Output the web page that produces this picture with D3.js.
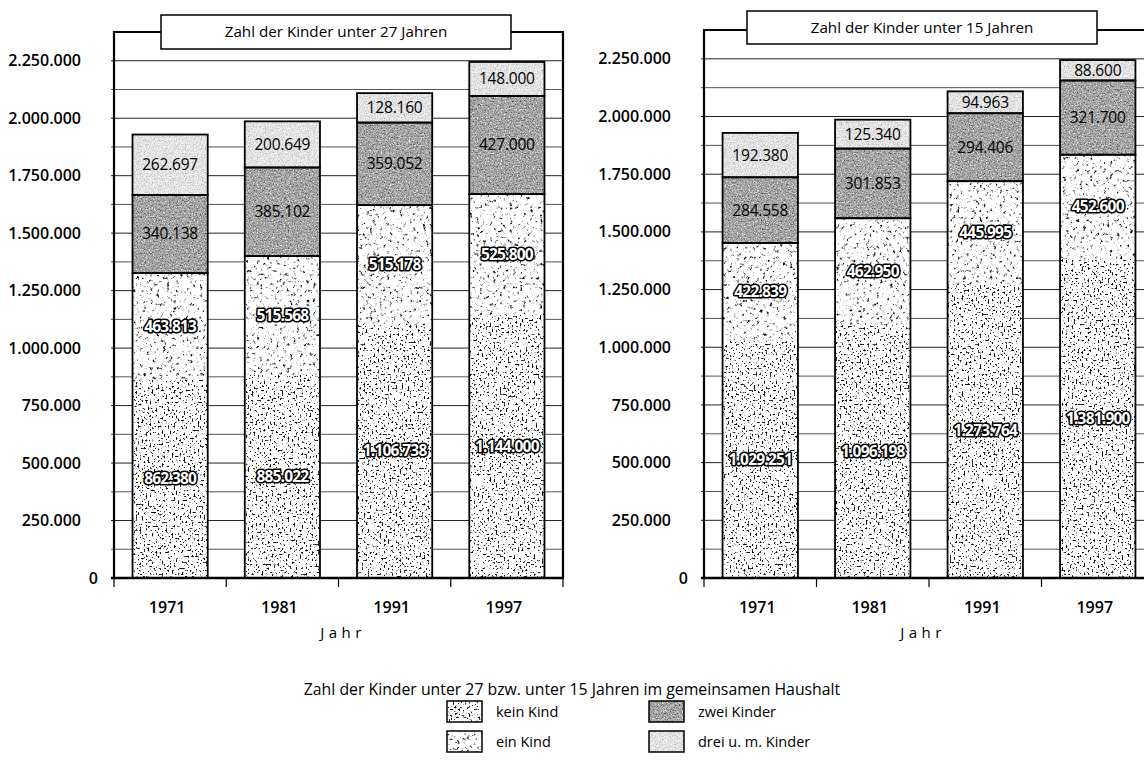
<!DOCTYPE html>
<html><head><meta charset="utf-8">
<script src="https://cdn.jsdelivr.net/npm/d3@7"></script>
<style>
body{margin:0;background:#fff;}
svg{display:block;font-family:"Open Sans",sans-serif;}
</style></head><body>
<svg id="chart" width="1144" height="777"></svg>
<script>
// ---------- data ----------
const years = ["1971", "1981", "1991", "1997"];
const seriesNames = ["kein Kind", "ein Kind", "zwei Kinder", "drei u. m. Kinder"];
// Zahl der Kinder unter 27 Jahren
const u27Kein = [862380, 885022, 1106738, 1144000];
const u27Ein  = [463813, 515568, 515178, 525800];
const u27Zwei = [340138, 385102, 359052, 427000];
const u27Drei = [262697, 200649, 128160, 148000];
// Zahl der Kinder unter 15 Jahren
const u15Kein = [1029251, 1096198, 1273764, 1381900];
const u15Ein  = [422839, 462950, 445995, 452600];
const u15Zwei = [284558, 301853, 294406, 321700];
const u15Drei = [192380, 125340, 94963, 88600];
const yTicks = [0, 250000, 500000, 750000, 1000000, 1250000, 1500000, 1750000, 2000000, 2250000];
const yMax = 2375000;
const chartTitles = ["Zahl der Kinder unter 27 Jahren", "Zahl der Kinder unter 15 Jahren"];
const xTitle = "Jahr";
const legendTitle = "Zahl der Kinder unter 27 bzw. unter 15 Jahren im gemeinsamen Haushalt";

const de = d3.formatLocale({decimal: ",", thousands: ".", grouping: [3], currency: ["", " €"]});
const fmt = de.format(",d");

const svg = d3.select("#chart");
const defs = svg.append("defs");

// ---------- textures (scan-like noise fills) ----------
const ones = n => Array(n).fill(1).join(" ");
const textures = [
  {id: "tex0", freq: 0.5, oct: 4, seed: 4, table: ones(12) + " 0.7 0.25 0.05 0 0 0 0 0"},
  {id: "tex1", freq: 0.3, oct: 4, seed: 9, table: ones(12) + " 0.88 0.7 0.45 0.2 0.05 0 0 0"},
  {id: "tex2", freq: 0.75, oct: 3, seed: 7, table: "0.12 0.18 0.24 0.3 0.36 0.42 0.48 0.54 0.58 0.62 0.66 0.7 0.75 0.8 0.86 0.92 0.97 1 1 1"},
  {id: "tex3", freq: 0.75, oct: 3, seed: 12, table: "0.5 0.56 0.62 0.68 0.73 0.77 0.8 0.83 0.86 0.88 0.9 0.92 0.94 0.96 0.98 1 1 1 1 1"}
];
textures.forEach(t => {
  const f = defs.append("filter").attr("id", t.id)
    .attr("x", 0).attr("y", 0).attr("width", 1).attr("height", 1)
    .attr("color-interpolation-filters", "sRGB");
  f.append("feTurbulence").attr("type", "fractalNoise").attr("baseFrequency", t.freq)
    .attr("numOctaves", t.oct).attr("seed", t.seed).attr("result", "n");
  f.append("feColorMatrix").attr("in", "n").attr("type", "matrix")
    .attr("values", "1 0 0 0 0  1 0 0 0 0  1 0 0 0 0  0 0 0 0 1")
    .attr("result", "g");
  const ct = f.append("feComponentTransfer").attr("in", "g").attr("result", "q");
  ["feFuncR", "feFuncG", "feFuncB"].forEach(fn => ct.append(fn).attr("type", "discrete").attr("tableValues", t.table));
  f.append("feComposite").attr("in", "q").attr("in2", "SourceGraphic").attr("operator", "in");
});

// ---------- chart builder ----------
function drawChart(cfg) {
  const {left, right, top, bottom, title, titleBox, series} = cfg;
  const g = svg.append("g");
  const x = d3.scaleBand().domain(years).range([left, right]).paddingInner(0.33).paddingOuter(0.165);
  const y = d3.scaleLinear().domain([0, yMax]).range([bottom, top]);

  const rows = years.map((yr, i) => {
    const r = {year: yr};
    seriesNames.forEach((s, j) => r[s] = series[j][i]);
    return r;
  });
  const stacked = d3.stack().keys(seriesNames)(rows);

  // gridlines every 125.000
  const grid = d3.range(125000, yMax, 125000);
  g.append("g").selectAll("line").data(grid).join("line")
    .attr("x1", left - 3).attr("x2", right)
    .attr("y1", d => y(d)).attr("y2", d => y(d))
    .attr("stroke", d => d % 250000 === 0 ? "#222" : "#555")
    .attr("stroke-width", 1);

  // frame
  g.append("path")
    .attr("d", `M${left},${bottom} V${y(yMax)} H${right} V${bottom}`)
    .attr("fill", "none").attr("stroke", "#000").attr("stroke-width", 2.2);

  // bar fills
  stacked.forEach((layer, j) => {
    g.append("g").selectAll("rect").data(layer).join("rect")
      .attr("x", d => x(d.data.year)).attr("width", x.bandwidth())
      .attr("y", d => y(d[1])).attr("height", d => y(d[0]) - y(d[1]))
      .attr("fill", "#fff").attr("filter", `url(#tex${j})`);
  });
  // bar outlines: kein+ein as one block, then zwei, drei
  const outline = g.append("g").attr("fill", "none").attr("stroke", "#000").attr("stroke-width", 1.8);
  outline.selectAll("rect.low").data(years).join("rect")
    .attr("x", (d) => x(d)).attr("width", x.bandwidth())
    .attr("y", (d, i) => y(stacked[1][i][1]))
    .attr("height", (d, i) => y(stacked[0][i][0]) - y(stacked[1][i][1]));
  [2, 3].forEach(j => {
    outline.append("g").selectAll("rect").data(stacked[j]).join("rect")
      .attr("x", d => x(d.data.year)).attr("width", x.bandwidth())
      .attr("y", d => y(d[1])).attr("height", d => y(d[0]) - y(d[1]));
  });

  // value labels
  stacked.forEach((layer, j) => {
    const lg = g.append("g").attr("text-anchor", "middle").attr("font-size", 15.5);
    const sel = lg.selectAll("text").data(layer).join("text")
      .attr("x", d => x(d.data.year) + x.bandwidth() / 2)
      .attr("y", d => (y(d[0]) + y(d[1])) / 2)
      .attr("dy", "0.35em")
      .text(d => fmt(d[1] - d[0]));
    if (j < 2) {
      sel.attr("fill", "#fff").attr("stroke", "#000").attr("stroke-width", 3.2)
        .attr("paint-order", "stroke").attr("stroke-linejoin", "round")
        .attr("font-weight", 700).attr("letter-spacing", -0.8);
    } else {
      sel.attr("fill", "#000").attr("font-weight", 400).attr("letter-spacing", -0.2);
    }
  });

  // title box
  g.append("rect").attr("x", titleBox[0]).attr("y", titleBox[1])
    .attr("width", titleBox[2]).attr("height", titleBox[3])
    .attr("fill", "#fff").attr("stroke", "#000").attr("stroke-width", 1.5);
  g.append("text").attr("x", titleBox[0] + titleBox[2] / 2).attr("y", titleBox[1] + titleBox[3] / 2)
    .attr("dy", "0.35em").attr("text-anchor", "middle").attr("font-size", 15.2)
    .text(title);

  // y axis labels
  g.append("g").attr("font-size", 16).attr("font-weight", 600).attr("text-anchor", "end")
    .selectAll("text").data(yTicks).join("text")
    .attr("x", d => d === 0 ? left - 16 : left - 33)
    .attr("y", d => y(d)).attr("dy", "0.35em")
    .text(d => fmt(d));

  // x baseline and ticks
  g.append("line").attr("x1", left - 3).attr("x2", right + 1)
    .attr("y1", bottom).attr("y2", bottom).attr("stroke", "#000").attr("stroke-width", 2.6);
  const bounds = d3.range(years.length + 1).map(i => x.range()[0] + i * x.step());
  g.append("g").selectAll("line").data(bounds).join("line")
    .attr("x1", d => d).attr("x2", d => d).attr("y1", bottom).attr("y2", bottom + 9)
    .attr("stroke", "#000").attr("stroke-width", 1.2);
  g.append("g").attr("font-size", 16).attr("font-weight", 600).attr("text-anchor", "middle")
    .selectAll("text").data(years).join("text")
    .attr("x", d => x(d) + x.bandwidth() / 2 - 3).attr("y", bottom + 29)
    .attr("dy", "0.35em").text(d => d);
  g.append("text").attr("x", cfg.xTitleX).attr("y", bottom + 55).attr("dy", "0.35em")
    .attr("text-anchor", "middle").attr("font-size", 15).attr("letter-spacing", 4.5)
    .text(xTitle);
}

drawChart({left: 114, right: 563, top: 32, bottom: 578, title: chartTitles[0], xTitleX: 343,
  titleBox: [161, 15, 350, 34], series: [u27Kein, u27Ein, u27Zwei, u27Drei]});
drawChart({left: 704, right: 1154, top: 30, bottom: 578, title: chartTitles[1], xTitleX: 923,
  titleBox: [747, 11, 350, 33], series: [u15Kein, u15Ein, u15Zwei, u15Drei]});

// ---------- legend ----------
const lg = svg.append("g");
lg.append("text").attr("x", 572).attr("y", 689).attr("dy", "0.35em").attr("text-anchor", "middle")
  .attr("font-size", 15.8).text(legendTitle);
const legendPos = [[447, 701], [447, 731], [649, 701], [649, 731]];
const items = lg.selectAll("g.item").data(seriesNames).join("g")
  .attr("transform", (d, i) => `translate(${legendPos[i][0]},${legendPos[i][1]})`);
items.append("rect").attr("width", 35).attr("height", 21).attr("fill", "#fff")
  .attr("filter", (d, i) => `url(#tex${i})`);
items.append("rect").attr("width", 35).attr("height", 21).attr("fill", "none")
  .attr("stroke", "#000").attr("stroke-width", 1.5);
items.append("text").attr("x", 49).attr("y", 10.5).attr("dy", "0.35em")
  .attr("font-size", 14.5).text(d => d);
</script>
</body></html>
